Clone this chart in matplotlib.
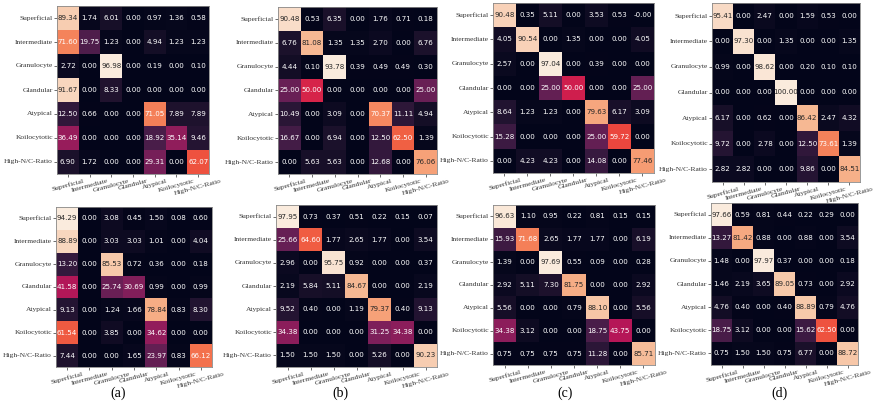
import matplotlib
matplotlib.use('Agg')
import matplotlib.pyplot as plt
import numpy as np
import seaborn as sns

classes = ['Superficial', 'Intermediate', 'Granulocyte', 'Glandular',
           'Atypical', 'Koilocytotic', 'High-N/C-Ratio']

# top row
cm_top_1 = [[89.34, 1.74, 6.01, 0.00, 0.97, 1.36, 0.58],
            [71.60, 19.75, 1.23, 0.00, 4.94, 1.23, 1.23],
            [2.72, 0.00, 96.98, 0.00, 0.19, 0.00, 0.10],
            [91.67, 0.00, 8.33, 0.00, 0.00, 0.00, 0.00],
            [12.50, 0.66, 0.00, 0.00, 71.05, 7.89, 7.89],
            [36.49, 0.00, 0.00, 0.00, 18.92, 35.14, 9.46],
            [6.90, 1.72, 0.00, 0.00, 29.31, 0.00, 62.07]]
cm_top_2 = [[90.48, 0.53, 6.35, 0.00, 1.76, 0.71, 0.18],
            [6.76, 81.08, 1.35, 1.35, 2.70, 0.00, 6.76],
            [4.44, 0.10, 93.78, 0.39, 0.49, 0.49, 0.30],
            [25.00, 50.00, 0.00, 0.00, 0.00, 0.00, 25.00],
            [10.49, 0.00, 3.09, 0.00, 70.37, 11.11, 4.94],
            [16.67, 0.00, 6.94, 0.00, 12.50, 62.50, 1.39],
            [0.00, 5.63, 5.63, 0.00, 12.68, 0.00, 76.06]]
cm_top_3 = [[90.48, 0.35, 5.11, 0.00, 3.53, 0.53, -0.00],
            [4.05, 90.54, 0.00, 1.35, 0.00, 0.00, 4.05],
            [2.57, 0.00, 97.04, 0.00, 0.39, 0.00, 0.00],
            [0.00, 0.00, 25.00, 50.00, 0.00, 0.00, 25.00],
            [8.64, 1.23, 1.23, 0.00, 79.63, 6.17, 3.09],
            [15.28, 0.00, 0.00, 0.00, 25.00, 59.72, 0.00],
            [0.00, 4.23, 4.23, 0.00, 14.08, 0.00, 77.46]]
cm_top_4 = [[95.41, 0.00, 2.47, 0.00, 1.59, 0.53, 0.00],
            [0.00, 97.30, 0.00, 1.35, 0.00, 0.00, 1.35],
            [0.99, 0.00, 98.62, 0.00, 0.20, 0.10, 0.10],
            [0.00, 0.00, 0.00, 100.00, 0.00, 0.00, 0.00],
            [6.17, 0.00, 0.62, 0.00, 86.42, 2.47, 4.32],
            [9.72, 0.00, 2.78, 0.00, 12.50, 73.61, 1.39],
            [2.82, 2.82, 0.00, 0.00, 9.86, 0.00, 84.51]]

# bottom row
cm_bot_1 = [[94.29, 0.00, 3.08, 0.45, 1.50, 0.08, 0.60],
            [88.89, 0.00, 3.03, 3.03, 1.01, 0.00, 4.04],
            [13.20, 0.00, 85.53, 0.72, 0.36, 0.00, 0.18],
            [41.58, 0.00, 25.74, 30.69, 0.99, 0.00, 0.99],
            [9.13, 0.00, 1.24, 1.66, 78.84, 0.83, 8.30],
            [61.54, 0.00, 3.85, 0.00, 34.62, 0.00, 0.00],
            [7.44, 0.00, 0.00, 1.65, 23.97, 0.83, 66.12]]
cm_bot_2 = [[97.95, 0.73, 0.37, 0.51, 0.22, 0.15, 0.07],
            [25.66, 64.60, 1.77, 2.65, 1.77, 0.00, 3.54],
            [2.96, 0.00, 95.75, 0.92, 0.00, 0.00, 0.37],
            [2.19, 5.84, 5.11, 84.67, 0.00, 0.00, 2.19],
            [9.52, 0.40, 0.00, 1.19, 79.37, 0.40, 9.13],
            [34.38, 0.00, 0.00, 0.00, 31.25, 34.38, 0.00],
            [1.50, 1.50, 1.50, 0.00, 5.26, 0.00, 90.23]]
cm_bot_3 = [[96.63, 1.10, 0.95, 0.22, 0.81, 0.15, 0.15],
            [15.93, 71.68, 2.65, 1.77, 1.77, 0.00, 6.19],
            [1.39, 0.00, 97.69, 0.55, 0.09, 0.00, 0.28],
            [2.92, 5.11, 7.30, 81.75, 0.00, 0.00, 2.92],
            [5.56, 0.00, 0.00, 0.79, 88.10, 0.00, 5.56],
            [34.38, 3.12, 0.00, 0.00, 18.75, 43.75, 0.00],
            [0.75, 0.75, 0.75, 0.75, 11.28, 0.00, 85.71]]
cm_bot_4 = [[97.66, 0.59, 0.81, 0.44, 0.22, 0.29, 0.00],
            [13.27, 81.42, 0.88, 0.00, 0.88, 0.00, 3.54],
            [1.48, 0.00, 97.97, 0.37, 0.00, 0.00, 0.18],
            [1.46, 2.19, 3.65, 89.05, 0.73, 0.00, 2.92],
            [4.76, 0.40, 0.00, 0.40, 88.89, 0.79, 4.76],
            [18.75, 3.12, 0.00, 0.00, 15.62, 62.50, 0.00],
            [0.75, 1.50, 1.50, 0.75, 6.77, 0.00, 88.72]]

panel_labels = ['(a)', '(b)', '(c)', '(d)']

W, H = 875, 405
fig = plt.figure(figsize=(W / 100, H / 100), dpi=100)


def px_rect(x0, y0, x1, y1):
    return [x0 / W, 1 - y1 / H, (x1 - x0) / W, (y1 - y0) / H]


# heatmap boxes in pixels (left, top, right, bottom)
boxes = [(57, 6, 209, 174), (278, 7, 437, 174), (493, 3, 654, 173), (712, 3, 860, 182),
         (56, 207, 212, 367), (276, 205, 437, 367), (493, 205, 655, 365), (711, 203, 858, 365)]
mats = [cm_top_1, cm_top_2, cm_top_3, cm_top_4, cm_bot_1, cm_bot_2, cm_bot_3, cm_bot_4]

for box, m in zip(boxes, mats):
    ax = fig.add_axes(px_rect(*box))
    sns.heatmap(np.array(m), ax=ax, cmap='rocket', annot=True, fmt='.2f', cbar=False,
                annot_kws={'size': 5.1}, xticklabels=classes, yticklabels=classes)
    ax.set_xticklabels(classes, rotation=15, ha='center', fontsize=5.4,
                       family='Liberation Serif')
    ax.set_yticklabels(classes, rotation=0, fontsize=5.4, family='Liberation Serif')
    ax.tick_params(length=2, width=0.5, pad=1, colors='#333333')
    for s in ax.spines.values():
        s.set_visible(True)
        s.set_color('#888888')
        s.set_linewidth(0.6)

label_x = [118, 340, 565, 780]
for lx, lab in zip(label_x, panel_labels):
    fig.text(lx / W, 1 - 393 / H, lab, ha='center', va='center', fontsize=10,
             family='Liberation Serif')

fig.savefig('out.png', dpi=100)
